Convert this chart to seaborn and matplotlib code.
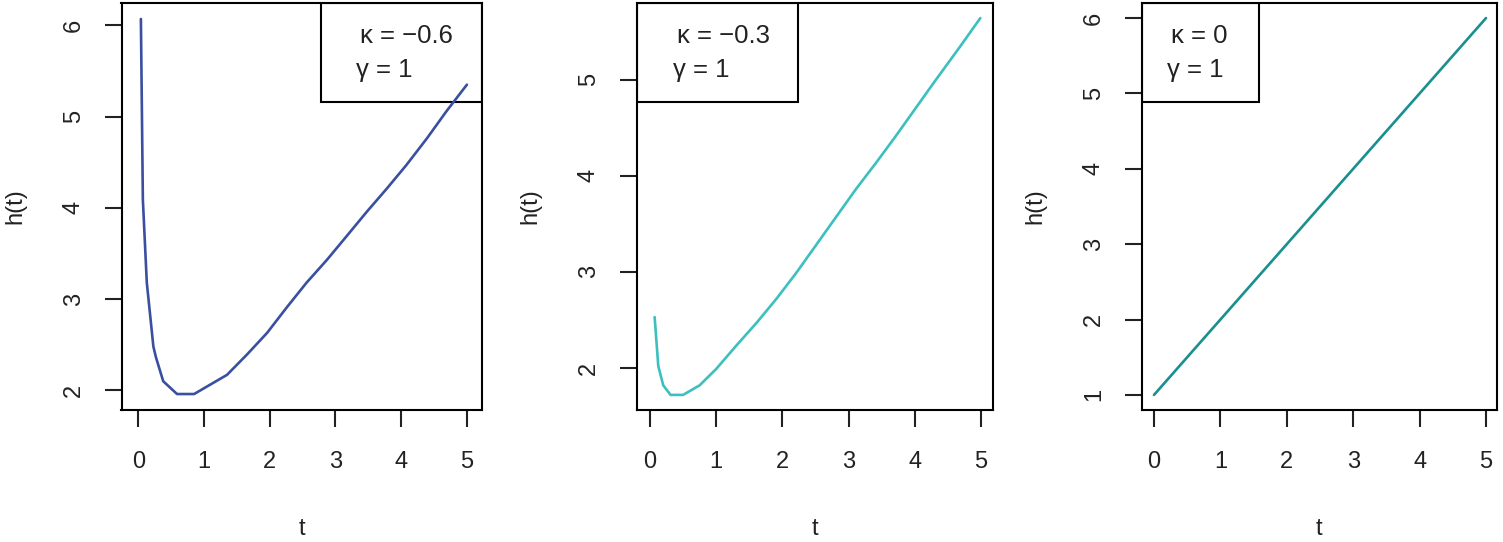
import matplotlib
matplotlib.use("Agg")
import matplotlib.pyplot as plt
from matplotlib.patches import Rectangle
import seaborn as sns
import pandas as pd

sns.set_style("white")
plt.rcParams['font.family'] = ['Liberation Sans', 'DejaVu Sans']

# ---- data ----
t1 = [0.04, 0.07, 0.13, 0.23, 0.27, 0.38, 0.59, 0.85, 1.04, 1.35, 1.65, 1.96, 2.26,
      2.56, 2.87, 3.17, 3.48, 3.78, 4.08, 4.39, 4.69, 5.00]
h1 = [6.07, 4.09, 3.18, 2.48, 2.36, 2.10, 1.96, 1.96, 2.04, 2.17, 2.39, 2.63, 2.91,
      3.18, 3.43, 3.69, 3.96, 4.21, 4.47, 4.76, 5.06, 5.35]

t2 = [0.07, 0.125, 0.20, 0.31, 0.50, 0.75, 1.00, 1.30, 1.61, 1.91, 2.21, 2.51, 2.81,
      3.11, 3.41, 3.71, 4.01, 4.31, 4.67, 4.99]
h2 = [2.53, 2.02, 1.82, 1.72, 1.72, 1.82, 1.99, 2.23, 2.47, 2.72, 2.99, 3.28, 3.57,
      3.86, 4.13, 4.41, 4.70, 4.99, 5.33, 5.64]

t3 = [0.0, 1.0, 2.0, 3.0, 4.0, 5.0]
h3 = [1.0, 2.0, 3.0, 4.0, 5.0, 6.0]

kappa_labels = ["κ = −0.6", "κ = −0.3", "κ = 0"]
gamma_labels = ["γ = 1", "γ = 1", "γ = 1"]
x_ticks = [0, 1, 2, 3, 4, 5]
y_ticks = [[2, 3, 4, 5, 6], [2, 3, 4, 5], [1, 2, 3, 4, 5, 6]]
colors = ["#3A4FA0", "#3DBFBF", "#1A8F8F"]

W, H = 1503, 542
fig = plt.figure(figsize=(W / 100, H / 100), dpi=100)

# pixel boxes: (left, right), top=3, bottom=410
boxes = [(121.5, 481.7), (636.7, 993.3), (1141.7, 1496.7)]
xlims = [(-0.255, 5.225), (-0.201, 5.186), (-0.185, 5.161)]
ylims = [(1.785, 6.245), (1.563, 5.797), (0.8, 6.2)]
legend_right = [None, 797.7, 1259.0]
legend_left1 = 321.0
text_x_px = [360.0, 676.7, 1171.0]

series = [(t1, h1), (t2, h2), (t3, h3)]
top_px, bot_px = 3.0, 410.0
ink = "#222222"

for i, ((l, r), (tt, hh)) in enumerate(zip(boxes, series)):
    w = r - l
    ax = fig.add_axes([l / W, (H - bot_px) / H, w / W, (bot_px - top_px) / H])
    df = pd.DataFrame({"t": tt, "h": hh})
    sns.lineplot(data=df, x="t", y="h", ax=ax, color=colors[i], linewidth=1.9,
                 sort=False, estimator=None, zorder=7)
    ax.set_xlim(*xlims[i])
    ax.set_ylim(*ylims[i])
    ax.set_xticks(x_ticks)
    ax.set_yticks(y_ticks[i])
    for s in ax.spines.values():
        s.set_visible(True)
        s.set_color("black")
        s.set_linewidth(1.5)
    ax.tick_params(axis="x", bottom=True, length=12.5, width=1.5, pad=17, labelsize=17,
                   color=ink, labelcolor=ink, direction="out")
    ax.tick_params(axis="y", left=True, length=12.5, width=1.5, pad=14, labelsize=17,
                   color=ink, labelcolor=ink, direction="out", labelrotation=90)
    for lab in ax.get_yticklabels():
        lab.set_va("center")
    ax.set_xlabel("t", fontsize=17, color=ink)
    ax.set_ylabel("h(t)", fontsize=17, color=ink)
    ax.xaxis.set_label_coords(0.5, -(518 - bot_px) / (bot_px - top_px))
    ax.yaxis.set_label_coords(-95.0 / w, 0.5)

    # legend box
    if i == 0:
        bx0 = (legend_left1 - l) / w
        bx1 = 1.0
    else:
        bx0 = 0.0
        bx1 = (legend_right[i] - l) / w
    by0 = (bot_px - 102) / (bot_px - top_px)
    rect = Rectangle((bx0, by0), bx1 - bx0, 1.0 - by0, transform=ax.transAxes,
                     fill=False, edgecolor="black", linewidth=1.5, zorder=5)
    ax.add_patch(rect)
    tx = (text_x_px[i] - l) / w
    ax.text(tx, (bot_px - 36) / (bot_px - top_px), kappa_labels[i], transform=ax.transAxes,
            fontsize=18.5, va="center", ha="left", color=ink, zorder=6)
    ax.text(tx - 4 / w, (bot_px - 70) / (bot_px - top_px), gamma_labels[i], transform=ax.transAxes,
            fontsize=18.5, va="center", ha="left", color=ink, zorder=6)

fig.savefig("out.png", dpi=100, facecolor="white")
